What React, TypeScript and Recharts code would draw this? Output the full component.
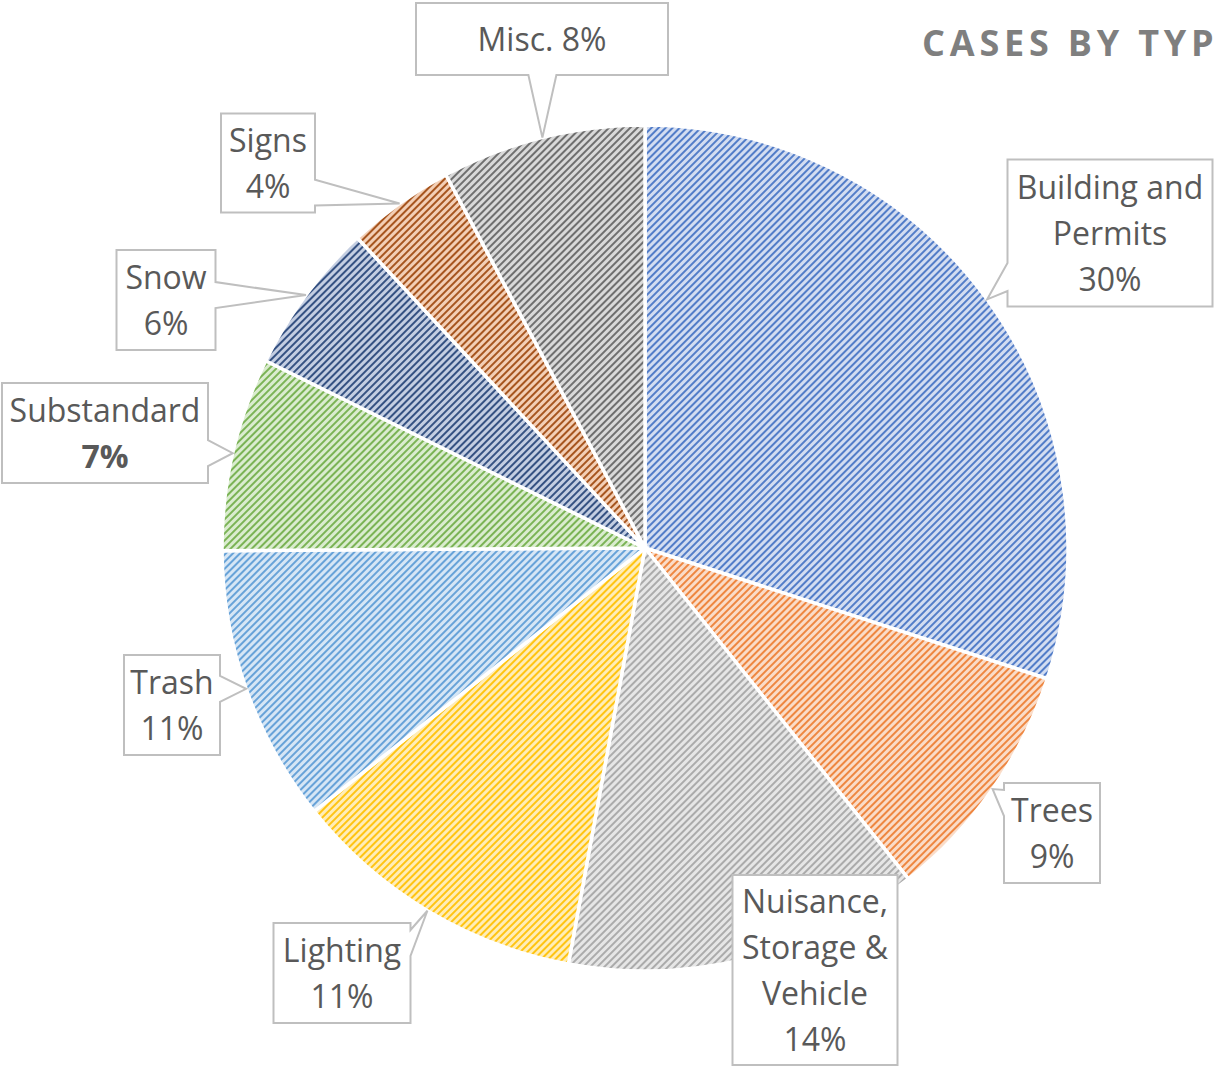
import { Cell, Pie, PieChart } from 'recharts'

const categories = [
  'Building and Permits',
  'Trees',
  'Nuisance, Storage & Vehicle',
  'Lighting',
  'Trash',
  'Substandard',
  'Snow',
  'Signs',
  'Misc.',
]
const shares = [30.0, 9.3, 13.6, 11.4, 10.6, 7.4, 5.8, 4.1, 7.8]
const nameLines = [
  ['Building and', 'Permits'],
  ['Trees'],
  ['Nuisance,', 'Storage &', 'Vehicle'],
  ['Lighting'],
  ['Trash'],
  ['Substandard'],
  ['Snow'],
  ['Signs'],
  ['Misc.'],
]

const lineColors = ['#4472C4', '#ED7D31', '#A5A5A5', '#FFC000', '#5B9BD5', '#70AD47', '#264478', '#9E480E', '#636363']
const tintColors = ['#D3DDF1', '#FADCC8', '#E6E6E6', '#FFEDB8', '#D6E6F5', '#DAECCF', '#C4CEE2', '#F3CFB6', '#D9D9D9']

// callout boxes: center offset from pie center, width, height
const boxes = [
  { dx: 465, dy: -315, w: 205, h: 147 },
  { dx: 407, dy: 285, w: 96, h: 100 },
  { dx: 170, dy: 422, w: 165, h: 190 },
  { dx: -303, dy: 425, w: 137, h: 100 },
  { dx: -473, dy: 157, w: 96, h: 100 },
  { dx: -540, dy: -115, w: 206, h: 100 },
  { dx: -479, dy: -248, w: 99, h: 100 },
  { dx: -377, dy: -385, w: 94, h: 99 },
  { dx: -103, dy: -509, w: 252, h: 72 },
]

const data = categories.map((name, i) => ({ name, value: shares[i] }))

const RAD = Math.PI / 180
const FONT = "'Open Sans', sans-serif"
const LINE_H = 46

const clamp = (v: number, a: number, b: number) => Math.max(a, Math.min(b, v))

function calloutPath(x0: number, y0: number, x1: number, y1: number, tx: number, ty: number) {
  const w = x1 - x0
  const h = y1 - y0
  const d = { l: x0 - tx, r: tx - x1, t: y0 - ty, b: ty - y1 }
  const side = (Object.keys(d) as (keyof typeof d)[]).reduce((a, k) => (d[k] > d[a] ? k : a), 'l')
  if (d[side] <= 0) return `M${x0},${y0}H${x1}V${y1}H${x0}Z`
  if (side === 'r' || side === 'l') {
    const c = clamp(ty, y0 + h * 0.2, y1 - h * 0.2)
    const hw = Math.min(h * 0.13, 14)
    if (side === 'r') return `M${x0},${y0}H${x1}V${c - hw}L${tx},${ty}L${x1},${c + hw}V${y1}H${x0}Z`
    return `M${x0},${y0}H${x1}V${y1}H${x0}V${c + hw}L${tx},${ty}L${x0},${c - hw}Z`
  }
  const c = clamp(tx, x0 + w * 0.2, x1 - w * 0.2)
  const hw = Math.min(w * 0.13, 14)
  if (side === 'b') return `M${x0},${y0}H${x1}V${y1}H${c + hw}L${tx},${ty}L${c - hw},${y1}H${x0}Z`
  return `M${x0},${y0}H${c - hw}L${tx},${ty}L${c + hw},${y0}H${x1}V${y1}H${x0}Z`
}

function Callout(props: any) {
  const { cx, cy, midAngle, outerRadius, percent, index } = props
  const tx = cx + outerRadius * Math.cos(-midAngle * RAD)
  const ty = cy + outerRadius * Math.sin(-midAngle * RAD)
  const b = boxes[index]
  const bx = cx + b.dx
  const by = cy + b.dy
  const x0 = bx - b.w / 2
  const y0 = by - b.h / 2
  const pct = `${Math.round(percent * 100)}%`
  const inline = categories[index] === 'Misc.'
  const lines = inline ? [`${nameLines[index][0]} ${pct}`] : [...nameLines[index], pct]
  const bold = categories[index] === 'Substandard'
  return (
    <g>
      <path
        d={calloutPath(x0, y0, x0 + b.w, y0 + b.h, tx, ty)}
        fill="#fff"
        stroke="#BFBFBF"
        strokeWidth={2}
      />
      {lines.map((t, i) => (
        <text
          key={i}
          x={bx}
          y={by + (i - (lines.length - 1) / 2) * LINE_H + 12}
          textAnchor="middle"
          fill="#595959"
          fontSize={32}
          fontFamily={FONT}
          fontWeight={bold && i === lines.length - 1 ? 700 : 400}
        >
          {t}
        </text>
      ))}
    </g>
  )
}

export default function App() {
  return (
    <div style={{ position: 'absolute', left: 0, top: 0, width: 1217, height: 1068, background: '#fff' }}>
      <PieChart width={1217} height={1068} margin={{ top: 0, right: 0, bottom: 0, left: 0 }}>
        <defs>
          {lineColors.map((c, i) => (
            <pattern key={i} id={`hatch${i}`} width={5} height={5} patternUnits="userSpaceOnUse" patternTransform="rotate(45)">
              <rect width={5} height={5} fill={tintColors[i]} />
              <line x1={1} y1={0} x2={1} y2={5} stroke={c} strokeWidth={1.8} />
            </pattern>
          ))}
        </defs>
        <text
          x={922}
          y={56}
          fill="#7F7F7F"
          fontSize={36}
          fontWeight={700}
          fontFamily={FONT}
          letterSpacing={4.8}
        >
          CASES BY TYP
        </text>
        <Pie
          data={data}
          dataKey="value"
          nameKey="name"
          cx={645}
          cy={548}
          outerRadius={423}
          startAngle={90}
          endAngle={-270}
          stroke="#fff"
          strokeWidth={3.5}
          label={Callout}
          labelLine={false}
          isAnimationActive={false}
        >
          {data.map((_, i) => (
            <Cell key={i} fill={`url(#hatch${i})`} />
          ))}
        </Pie>
      </PieChart>
    </div>
  )
}
